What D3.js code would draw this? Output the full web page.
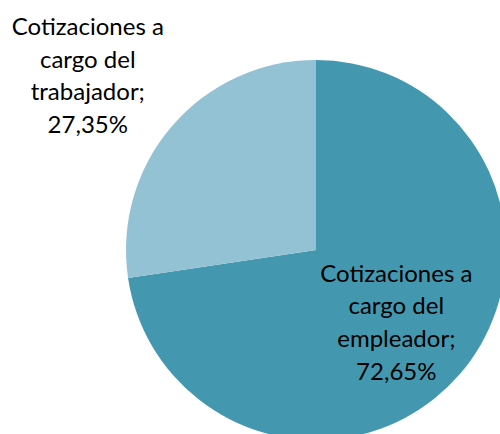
<!DOCTYPE html>
<html>
<head>
<meta charset="utf-8">
<script src="https://cdn.jsdelivr.net/npm/d3@7"></script>
<style>
  html, body { margin: 0; padding: 0; background: #fff; }
  svg { display: block; }
</style>
</head>
<body>
<svg id="chart" width="500" height="434"></svg>
<script>
// data
const categories = ["Cotizaciones a cargo del empleador", "Cotizaciones a cargo del trabajador"];
const shares = [72.65, 27.35];
const labelLines = [
  ["Cotizaciones a", "cargo del", "empleador;", "72,65%"],
  ["Cotizaciones a", "cargo del", "trabajador;", "27,35%"]
];
const colors = ["#4398b0", "#93c2d5"];

const svg = d3.select("#chart");
const cx = 316, cy = 250, radius = 190;
const lineHeight = 32.7;

const pie = d3.pie().sort(null).value(d => d)(shares);
const arc = d3.arc().innerRadius(0).outerRadius(radius);

const g = svg.append("g").attr("transform", `translate(${cx},${cy})`);

g.selectAll("path")
  .data(pie)
  .join("path")
  .attr("d", arc)
  .style("fill", (d, i) => colors[i]);

// label anchors: inside label uses centroid, outside one sits beyond the rim
const labelArcs = [
  d3.arc().innerRadius(110).outerRadius(110),
  d3.arc().innerRadius(300).outerRadius(300)
];
const labelNudge = [[-3, 1], [-1, 22]];

const labels = g.selectAll("text.lbl")
  .data(pie)
  .join("text")
  .attr("class", "lbl")
  .attr("text-anchor", "middle")
  .style("font", "24px Lato, 'Open Sans', sans-serif")
  .style("fill", "#000")
  .attr("transform", (d, i) => {
    const c = labelArcs[i].centroid(d);
    return `translate(${c[0] + labelNudge[i][0]},${c[1] + labelNudge[i][1]})`;
  });

labels.selectAll("tspan")
  .data((d, i) => labelLines[i].map((t, k, a) => ({t, k, n: a.length})))
  .join("tspan")
  .attr("x", 0)
  .attr("y", d => (d.k - (d.n - 1) / 2) * lineHeight + 8)
  .text(d => d.t);
</script>
</body>
</html>
